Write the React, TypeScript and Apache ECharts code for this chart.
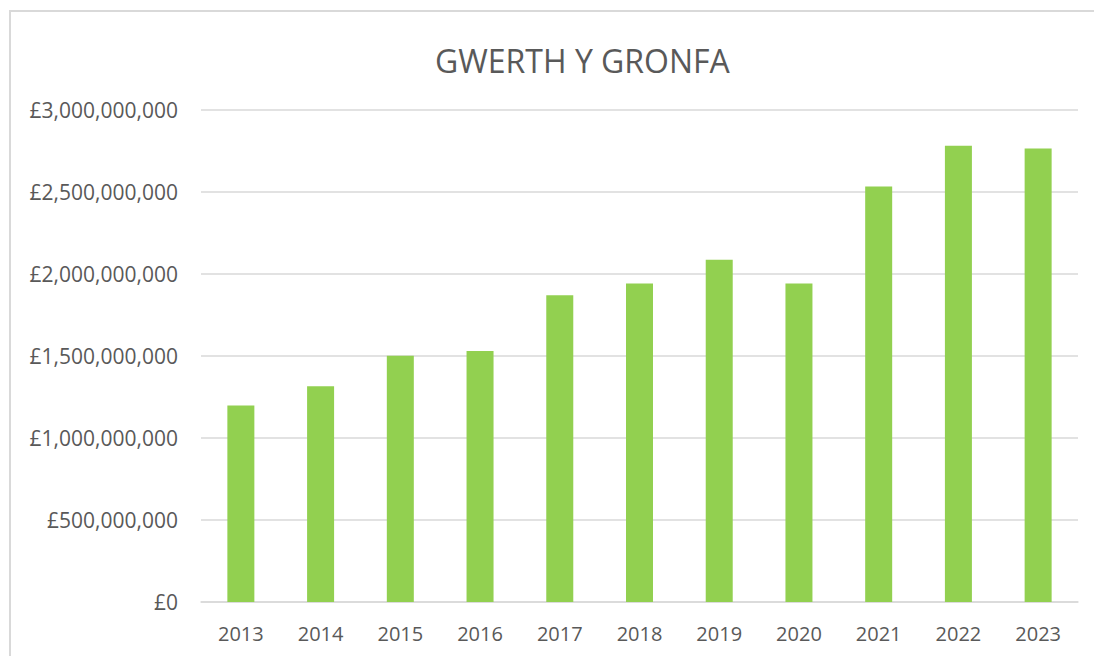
import React, { useEffect, useRef } from "react";
import * as echarts from "echarts";

const titleText = "GWERTH Y GRONFA";
const years = ["2013", "2014", "2015", "2016", "2017", "2018", "2019", "2020", "2021", "2022", "2023"];
const fundValues = [
  1197000000, 1314000000, 1500000000, 1529000000, 1868000000, 1940000000,
  2085000000, 1940000000, 2531000000, 2779000000, 2763000000,
];
const yMin = 0;
const yMax = 3000000000;
const yStep = 500000000;

const fmt = (v: number) => "£" + v.toLocaleString("en-GB");

export default function App() {
  const ref = useRef<HTMLDivElement>(null);
  useEffect(() => {
    if (!ref.current) return;
    const chart = echarts.init(ref.current, undefined, { renderer: "svg" });
    const font = "'Open Sans', sans-serif";
    chart.setOption({
      animation: false,
      backgroundColor: "#ffffff",
      title: {
        text: titleText,
        left: 430,
        top: 39,
        itemGap: 0,
        textStyle: { fontFamily: font, fontSize: 32, fontWeight: "normal", color: "#595959" },
      },
      graphic: [
        {
          type: "rect",
          shape: { x: 10, y: 11, width: 1200, height: 800 },
          style: { fill: "none", stroke: "#d9d9d9", lineWidth: 2 },
          silent: true,
        },
      ],
      grid: { left: 201, right: 16, top: 109.5, bottom: 54, containLabel: false },
      xAxis: {
        type: "category",
        data: years,
        axisLine: { show: true, lineStyle: { color: "#d9d9d9", width: 1.5 } },
        axisTick: { show: false },
        axisLabel: { color: "#595959", fontFamily: font, fontSize: 20, margin: 21 },
      },
      yAxis: {
        type: "value",
        min: yMin,
        max: yMax,
        interval: yStep,
        axisLine: { show: false },
        axisTick: { show: false },
        splitLine: { lineStyle: { color: "#d9d9d9", width: 1.5 } },
        axisLabel: {
          color: "#595959",
          fontFamily: font,
          fontSize: 21,
          margin: 23,
          formatter: (v: number) => fmt(v),
        },
      },
      series: [
        {
          type: "bar",
          data: fundValues,
          barWidth: 27,
          itemStyle: { color: "#92d050" },
        },
      ],
    });
    return () => chart.dispose();
  }, []);
  return (
    <div
      ref={ref}
      style={{ position: "fixed", left: 0, top: 0, width: 1094, height: 656 }}
    />
  );
}
